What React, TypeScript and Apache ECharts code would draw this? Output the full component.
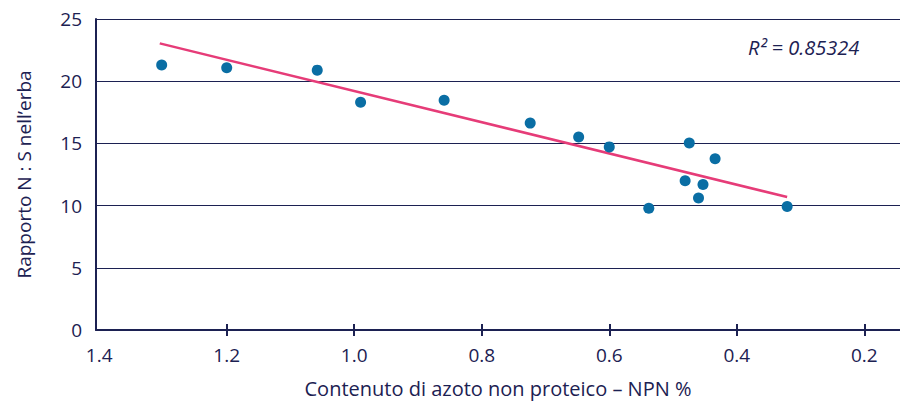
import React, { useEffect, useRef } from "react";
import * as echarts from "echarts";

const xTickValues = [1.4, 1.2, 1.0, 0.8, 0.6, 0.4, 0.2];
const yTickValues = [0, 5, 10, 15, 20, 25];

const npnValues = [1.302, 1.2, 1.058, 0.99, 0.859, 0.724, 0.648, 0.6, 0.4745, 0.434, 0.481, 0.453, 0.46, 0.538, 0.321];
const nsRatioValues = [21.3, 21.08, 20.89, 18.3, 18.46, 16.63, 15.52, 14.72, 15.04, 13.77, 11.99, 11.7, 10.61, 9.79, 9.92];

const trendX = [1.305, 0.321];
const trendY = [23.04, 10.69];

const r2Label = "R² = 0.85324";
const xTitle = "Contenuto di azoto non proteico – NPN %";
const yTitle = "Rapporto N : S nell’erba";

const NAVY = "#1c2152";
const FONT = "'Open Sans', 'Noto Sans', sans-serif";

export default function App() {
  const ref = useRef<HTMLDivElement>(null);
  useEffect(() => {
    if (!ref.current) return;
    const chart = echarts.init(ref.current, null, { renderer: "svg" });
    const points = npnValues.map((x, i) => [x, nsRatioValues[i]]);
    const trend = trendX.map((x, i) => [x, trendY[i]]);
    chart.setOption({
      animation: false,
      backgroundColor: "#ffffff",
      textStyle: { fontFamily: FONT },
      grid: { left: 96, right: 0, top: 19, bottom: 69.5, containLabel: false },
      xAxis: [
        {
          type: "value",
          min: 0.144,
          max: 1.405,
          inverse: true,
          name: xTitle,
          nameLocation: "middle",
          nameGap: 48,
          nameTextStyle: { color: NAVY, fontSize: 20, fontFamily: FONT },
          axisLine: { show: true, lineStyle: { color: NAVY, width: 2 } },
          axisTick: {
            show: true,
            inside: false,
            length: 6,
            lineStyle: { color: NAVY, width: 2 },
            customValues: xTickValues.slice(1),
          },
          axisLabel: {
            color: NAVY,
            fontSize: 19,
            fontFamily: FONT,
            margin: 15,
            customValues: xTickValues,
            formatter: (v: number) => v.toFixed(1),
          },
          splitLine: { show: false },
        },
        {
          type: "value",
          min: 0.144,
          max: 1.405,
          inverse: true,
          position: "bottom",
          axisLine: { show: false },
          axisTick: {
            show: true,
            inside: true,
            length: 6,
            lineStyle: { color: NAVY, width: 2 },
            customValues: xTickValues.slice(1),
          },
          axisLabel: { show: false },
          splitLine: { show: false },
        },
      ],
      yAxis: {
        type: "value",
        min: 0,
        max: 25,
        interval: 5,
        name: yTitle,
        nameLocation: "middle",
        nameRotate: 90,
        nameGap: 63,
        nameTextStyle: { color: NAVY, fontSize: 19, fontFamily: FONT },
        axisLine: { show: true, lineStyle: { color: NAVY, width: 2 } },
        axisTick: { show: false },
        axisLabel: {
          color: NAVY,
          fontSize: 19,
          fontFamily: FONT,
          margin: 14,
          customValues: yTickValues,
        },
        splitLine: { show: true, lineStyle: { color: NAVY, width: 1 } },
      },
      series: [
        {
          type: "line",
          data: trend,
          xAxisIndex: 0,
          symbol: "none",
          lineStyle: { color: "#e63c78", width: 2.5 },
          z: 2,
        },
        {
          type: "scatter",
          data: points,
          xAxisIndex: 0,
          symbol: "circle",
          symbolSize: 11,
          itemStyle: { color: "#0a6ea4", opacity: 1 },
          z: 3,
        },
      ],
      graphic: [
        {
          type: "text",
          left: 748,
          top: 37,
          style: {
            text: r2Label,
            fill: NAVY,
            fontSize: 20,
            fontStyle: "italic",
            fontFamily: FONT,
          },
        },
      ],
    });
    return () => chart.dispose();
  }, []);
  return <div ref={ref} style={{ width: 900, height: 403, position: "absolute", left: 0, top: 0 }} />;
}
